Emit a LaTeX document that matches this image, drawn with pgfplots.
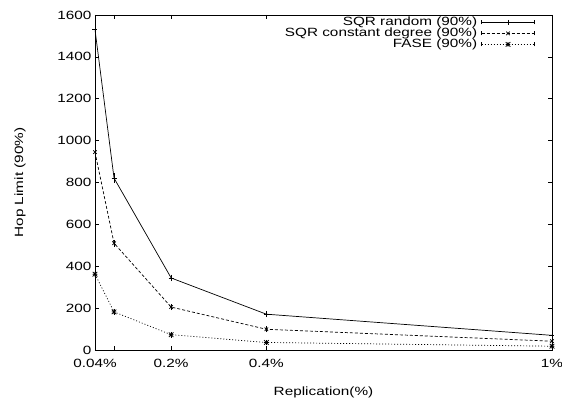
\documentclass[border=0pt]{standalone}
\usepackage{fontspec}
\setmainfont{Liberation Sans}
\usepackage{graphicx}
\usepackage{pgfplots}
\usepackage{pgfplotstable}
\pgfplotsset{compat=1.18}
\newcommand\sx[1]{\scalebox{1.28}[1]{#1}}

\pgfdeclareplotmark{gstar}{%
  \pgfpathmoveto{\pgfqpoint{-\pgfplotmarksize}{0pt}}%
  \pgfpathlineto{\pgfqpoint{\pgfplotmarksize}{0pt}}%
  \pgfpathmoveto{\pgfqpoint{0pt}{-\pgfplotmarksize}}%
  \pgfpathlineto{\pgfqpoint{0pt}{\pgfplotmarksize}}%
  \pgfpathmoveto{\pgfqpoint{-\pgfplotmarksize}{-\pgfplotmarksize}}%
  \pgfpathlineto{\pgfqpoint{\pgfplotmarksize}{\pgfplotmarksize}}%
  \pgfpathmoveto{\pgfqpoint{-\pgfplotmarksize}{\pgfplotmarksize}}%
  \pgfpathlineto{\pgfqpoint{\pgfplotmarksize}{-\pgfplotmarksize}}%
  \pgfusepathqstroke}

\pgfplotstableread{
x y e
0.04 1530 28
0.08 821 12
0.2 344 5
0.4 171 3
1 70 3
}\sqrrandom

\pgfplotstableread{
x y e
0.04 945 20
0.08 510 6
0.2 205 4
0.4 99 3
1 42 3
}\sqrconst

\pgfplotstableread{
x y e
0.04 362 8
0.08 182 4
0.2 73 3
0.4 36 2
1 18 2
}\fase

\pgfplotsset{
  gpleg/.style={legend image code/.code={
    \draw[mark repeat=2,mark phase=2] plot coordinates {(0bp,0bp) (26.5bp,0bp) (53bp,0bp)};
    \draw[solid] (0bp,-2bp) -- (0bp,2bp) (53bp,-2bp) -- (53bp,2bp);
  }},
  gperr/.style={error bars/.cd, y dir=both, y explicit, error mark=-,
    error bar style={solid, line width=0.7bp},
    error mark options={solid, mark size=2.2bp, line width=0.7bp}, /pgfplots/.cd},
}

\begin{document}
\begin{tikzpicture}
\begin{axis}[
  scale only axis, width=457bp, height=335bp,
  xmin=0.04, xmax=1, ymin=0, ymax=1600,
  xtick={0.04,0.08,0.2,0.4,1},
  xticklabels={\sx{0.04\%},,\sx{0.2\%},\sx{0.4\%},\sx{1\%}},
  ytick={0,200,...,1600},
  yticklabel={\sx{\pgfmathprintnumber{\tick}}},
  tick align=inside, tick pos=both, major tick length=4bp,
  axis line style={line width=0.8bp},
  tick style={line width=0.6bp, black},
  font=\fontsize{12}{14}\selectfont,
  tick label style={font=\fontsize{12}{14}\selectfont},
  xticklabel style={yshift=-6bp},
  /pgf/number format/assume math mode=true,
  /pgf/number format/set thousands separator={},
  xlabel={\sx{Replication(\%)}}, ylabel={\sx{Hop Limit (90\%)}},
  xlabel style={at={(axis description cs:0.5,-0.127)}, anchor=center},
  ylabel style={at={(axis description cs:-0.164,0.5)}, anchor=center},
  legend plot pos=right, legend cell align=right,
  legend style={draw=none, fill=none, inner sep=0pt, at={(axis description cs:0.963,0.995)}, anchor=north east,
    font=\fontsize{12}{14}\selectfont, column sep=4bp, row sep=0pt,
    nodes={inner sep=0pt, text height=8.5bp, text depth=2.5bp}},
]
\addplot[black, line width=0.7bp, solid, mark=+, mark size=2.5bp, mark options={solid}, gpleg, gperr]
  table[x=x, y=y, y error=e] {\sqrrandom};
\addlegendentry{\sx{SQR random (90\%)}}
\addplot[black, line width=0.7bp, dash pattern=on 3bp off 2bp, mark=x, mark size=2.5bp, mark options={solid}, gpleg, gperr]
  table[x=x, y=y, y error=e] {\sqrconst};
\addlegendentry{\sx{SQR constant degree (90\%)}}
\addplot[black, line width=0.7bp, dash pattern=on 1bp off 2bp, mark=gstar, mark size=2.3bp, mark options={solid}, gpleg, gperr]
  table[x=x, y=y, y error=e] {\fase};
\addlegendentry{\sx{FASE (90\%)}}
\end{axis}
\pgfresetboundingbox
\path (-95bp,-48bp) rectangle (467bp,350bp);
\end{tikzpicture}
\end{document}
